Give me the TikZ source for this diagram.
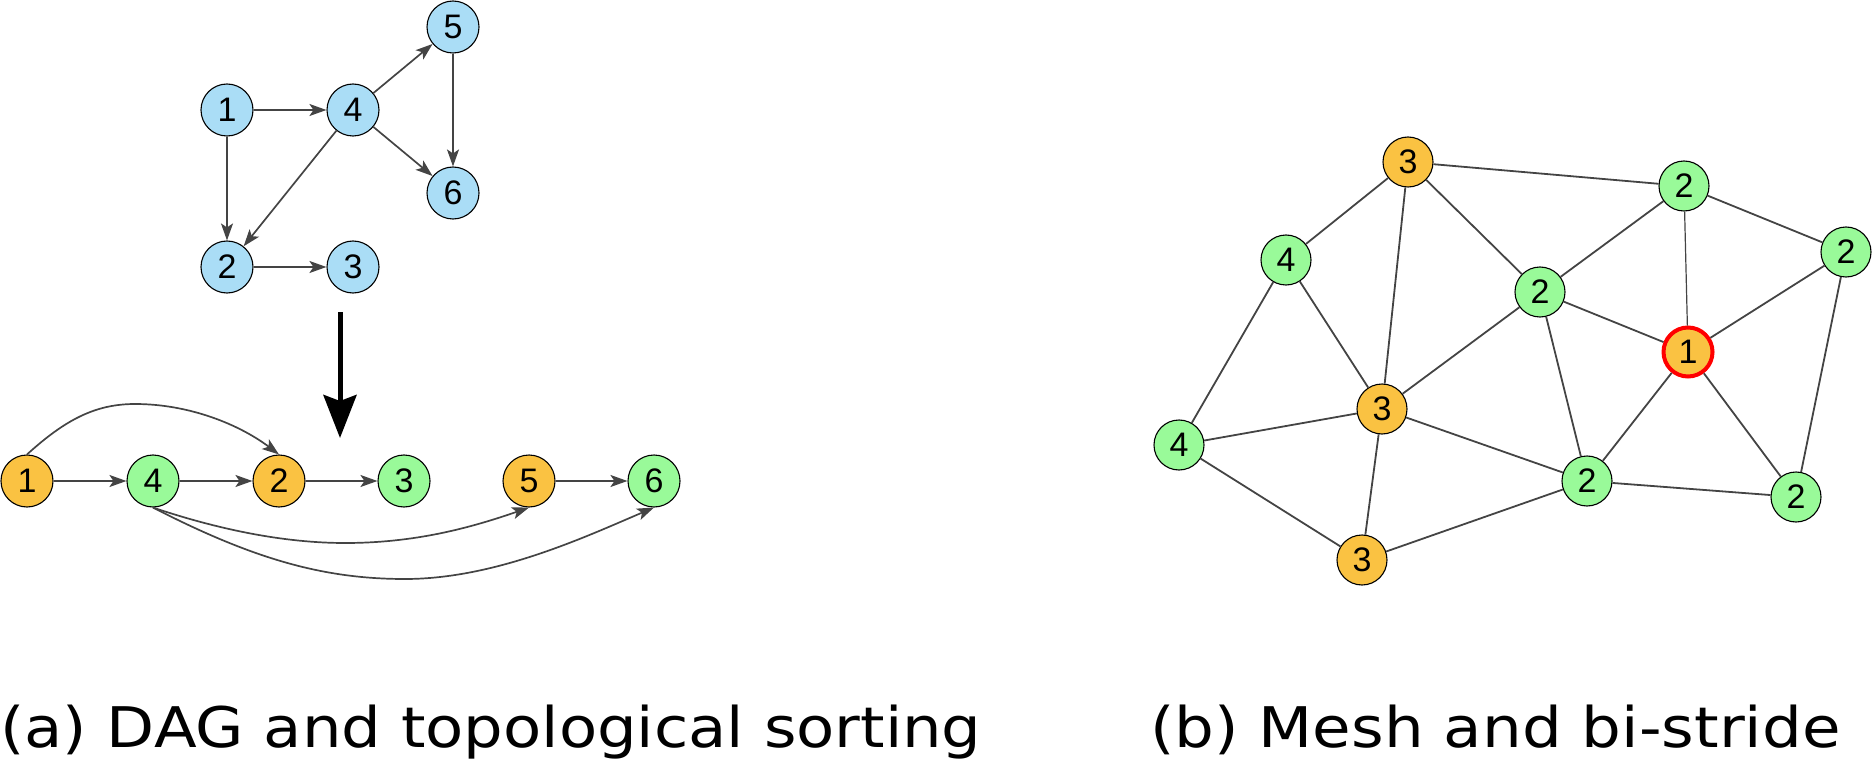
\documentclass[tikz,border=0pt]{standalone}
\usepackage{fontspec}
\usepackage{graphicx}
\usetikzlibrary{arrows.meta}
\newfontfamily\numfont{Liberation Sans}
\newfontfamily\capfont{DejaVu Sans}
\definecolor{nblue}{HTML}{AADDF6}
\definecolor{norange}{HTML}{FAC242}
\definecolor{ngreen}{HTML}{99FA99}
\definecolor{edgec}{HTML}{444444}
\begin{document}
\begin{tikzpicture}[x=1pt,y=-1pt,
  vtx/.style={circle, draw=black, line width=1.1pt, minimum size=52pt, inner sep=0pt,
    font=\numfont\fontsize{34}{34}\selectfont},
  mvtx/.style={vtx, minimum size=50pt},
  bluev/.style={vtx, fill=nblue},
  orv/.style={vtx, fill=norange},
  grv/.style={vtx, fill=ngreen},
  morv/.style={mvtx, fill=norange},
  mgrv/.style={mvtx, fill=ngreen},
  redv/.style={mvtx, minimum size=49pt, fill=norange, draw=red, line width=4pt},
  arr/.style={draw=edgec, line width=1.7pt, -{Stealth[length=17pt,width=12pt,inset=4pt]}},
  bigarr/.style={draw=black, line width=5pt, -{Stealth[length=43pt,width=33pt,inset=6pt]}},
  medge/.style={draw=edgec, line width=1.8pt},
  thinedge/.style={draw=edgec, line width=1.2pt},
  captext/.style={anchor=base west, inner sep=0pt, font=\capfont\fontsize{56}{56}\selectfont}
]
\useasboundingbox (0,0) rectangle (1872,762);

% ---------- DAG ----------
\node[bluev] (t1) at (227,110) {1};
\node[bluev] (t4) at (353,110) {4};
\node[bluev] (t5) at (453,27) {5};
\node[bluev] (t6) at (453,193) {6};
\node[bluev] (t2) at (227,267) {2};
\node[bluev] (t3) at (353,267) {3};

\draw[arr] (t1) -- (t4);
\draw[arr] (t1) -- (t2);
\draw[arr] (t4) -- (t5);
\draw[arr] (t4) -- (t6);
\draw[arr] (t4) -- (t2);
\draw[arr] (t5) -- (t6);
\draw[arr] (t2) -- (t3);

% big arrow
\coordinate (bigtop) at (340,312);
\coordinate (bigtip) at (340,438);
\draw[bigarr] (bigtop) -- (bigtip);

% ---------- topological order ----------
\node[orv] (b1) at (27,481) {1};
\node[grv] (b4) at (153,481) {4};
\node[orv] (b2) at (279,481) {2};
\node[grv] (b3) at (404,481) {3};
\node[orv] (b5) at (529,481) {5};
\node[grv] (b6) at (654,481) {6};

\draw[arr] (b1) -- (b4);
\draw[arr] (b4) -- (b2);
\draw[arr] (b2) -- (b3);
\draw[arr] (b5) -- (b6);

\draw[arr] (b1.north) .. controls (65,420) and (95,404) .. (135,404)
  .. controls (190,404) and (240,425) .. (b2.north);
\draw[arr] (b4.south) .. controls (220,530) and (285,543) .. (345,543)
  .. controls (415,543) and (470,528) .. (b5.south);
\draw[arr] (b4.south) .. controls (255,560) and (325,579) .. (405,579)
  .. controls (495,579) and (585,537) .. (b6.south);

% ---------- mesh ----------
\node[morv] (A) at (1408,162) {3};
\node[mgrv] (B) at (1684,186) {2};
\node[mgrv] (C) at (1286,260) {4};
\node[mgrv] (D) at (1846,252) {2};
\node[mgrv] (E) at (1540,292) {2};
\node[redv] (F) at (1688,352) {1};
\node[morv] (G) at (1382,409) {3};
\node[mgrv] (H) at (1179,445) {4};
\node[mgrv] (I) at (1587,481) {2};
\node[mgrv] (J) at (1796,497) {2};
\node[morv] (K) at (1362,560) {3};

\draw[medge] (A) -- (B);
\draw[medge] (A) -- (C);
\draw[medge] (A) -- (G);
\draw[medge] (A) -- (E);
\draw[medge] (B) -- (E);
\draw[thinedge] (B) -- (F);
\draw[medge] (B) -- (D);
\draw[medge] (C) -- (H);
\draw[medge] (C) -- (G);
\draw[medge] (E) -- (F);
\draw[medge] (E) -- (G);
\draw[medge] (E) -- (I);
\draw[medge] (D) -- (F);
\draw[medge] (D) -- (J);
\draw[medge] (F) -- (I);
\draw[medge] (F) -- (J);
\draw[medge] (G) -- (H);
\draw[medge] (G) -- (I);
\draw[medge] (G) -- (K);
\draw[medge] (H) -- (K);
\draw[medge] (I) -- (J);
\draw[medge] (I) -- (K);

% ---------- captions ----------
\node[captext] (capa) at (0,747) {\scalebox{1.115}[1]{(a) DAG and topological sorting}};
\node[captext] (capb) at (1150,747) {\scalebox{1.12}[1]{(b) Mesh and bi-stride}};
\end{tikzpicture}
\end{document}
